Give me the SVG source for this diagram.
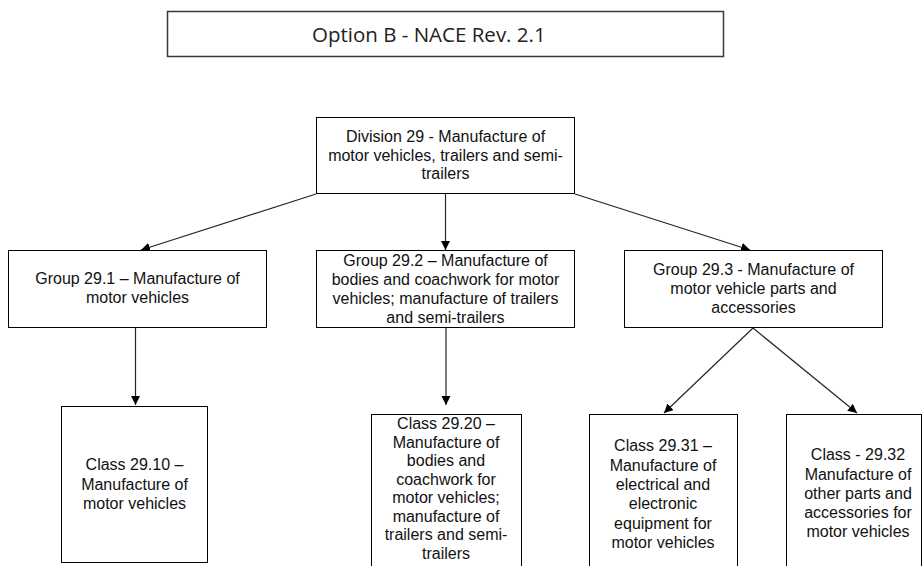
<svg xmlns="http://www.w3.org/2000/svg" width="923" height="566" viewBox="0 0 923 566">
<defs>
<marker id="arr" markerUnits="userSpaceOnUse" markerWidth="10" markerHeight="10" refX="9" refY="4.5" orient="auto">
<path d="M0,0 L9,4.5 L0,9 z" fill="#000"/>
</marker>
<style>
.box{fill:#fff;stroke:#000;stroke-width:1}
.t{font-family:"Liberation Sans",Arial,sans-serif;font-size:16px;fill:#111;text-anchor:middle}
.c{stroke:#262626;stroke-width:1.2;fill:none;marker-end:url(#arr)}
</style>
</defs>
<rect width="923" height="566" fill="#fff"/>
<g id="title">
<rect x="167.5" y="11.5" width="556" height="45" fill="#fff" stroke="#3a3a3a" stroke-width="1.5"/>
<text x="312" y="42" font-family="'Open Sans',sans-serif" font-size="20.5" fill="#222">Option B - NACE Rev. 2.1</text>
</g>
<g id="connectors">
<line class="c" x1="316" y1="194" x2="141" y2="250"/>
<line class="c" x1="445.5" y1="194" x2="445.5" y2="250"/>
<line class="c" x1="575" y1="194" x2="750" y2="250"/>
<line class="c" x1="135.5" y1="328" x2="135.5" y2="405"/>
<line class="c" x1="446" y1="328" x2="446" y2="405"/>
<line class="c" x1="753" y1="328" x2="664" y2="413"/>
<line class="c" x1="753" y1="328" x2="857" y2="413"/>
</g>
<g id="division29">
<rect class="box" x="316.5" y="117.5" width="258" height="76"/>
<text class="t" x="445.5" y="142">Division 29 - Manufacture of</text>
<text class="t" x="445.5" y="160.5">motor vehicles, trailers and semi-</text>
<text class="t" x="445.5" y="179">trailers</text>
</g>
<g id="group291">
<rect class="box" x="8.5" y="250.5" width="258" height="77"/>
<text class="t" x="137.5" y="284">Group 29.1 – Manufacture of</text>
<text class="t" x="137.5" y="303">motor vehicles</text>
</g>
<g id="group292">
<rect class="box" x="316.5" y="250.5" width="258" height="77"/>
<text class="t" x="445.5" y="265.5">Group 29.2 – Manufacture of</text>
<text class="t" x="445.5" y="284.5">bodies and coachwork for motor</text>
<text class="t" x="445.5" y="303.5">vehicles; manufacture of trailers</text>
<text class="t" x="445.5" y="322.5">and semi-trailers</text>
</g>
<g id="group293">
<rect class="box" x="624.5" y="250.5" width="258" height="77"/>
<text class="t" x="753.5" y="275">Group 29.3 - Manufacture of</text>
<text class="t" x="753.5" y="294">motor vehicle parts and</text>
<text class="t" x="753.5" y="313">accessories</text>
</g>
<g id="class2910">
<rect class="box" x="61.5" y="406.5" width="146" height="156"/>
<text class="t" x="134.5" y="470">Class 29.10 –</text>
<text class="t" x="134.5" y="489.5">Manufacture of</text>
<text class="t" x="134.5" y="509">motor vehicles</text>
</g>
<g id="class2920">
<rect class="box" x="371.5" y="414.5" width="150" height="160"/>
<text class="t" x="446" y="429">Class 29.20 –</text>
<text class="t" x="446" y="447.5">Manufacture of</text>
<text class="t" x="446" y="466">bodies and</text>
<text class="t" x="446" y="484.5">coachwork for</text>
<text class="t" x="446" y="503">motor vehicles;</text>
<text class="t" x="446" y="521.5">manufacture of</text>
<text class="t" x="446" y="540">trailers and semi-</text>
<text class="t" x="446" y="558.5">trailers</text>
</g>
<g id="class2931">
<rect class="box" x="589.5" y="414.5" width="148" height="160"/>
<text class="t" x="663" y="451">Class 29.31 –</text>
<text class="t" x="663" y="470.5">Manufacture of</text>
<text class="t" x="663" y="489.5">electrical and</text>
<text class="t" x="663" y="509">electronic</text>
<text class="t" x="663" y="528.5">equipment for</text>
<text class="t" x="663" y="547.5">motor vehicles</text>
</g>
<g id="class2932">
<rect class="box" x="786.5" y="414.5" width="135" height="160"/>
<text class="t" x="858" y="460">Class - 29.32</text>
<text class="t" x="858" y="479.5">Manufacture of</text>
<text class="t" x="858" y="498.5">other parts and</text>
<text class="t" x="858" y="518">accessories for</text>
<text class="t" x="858" y="537">motor vehicles</text>
</g>
</svg>
